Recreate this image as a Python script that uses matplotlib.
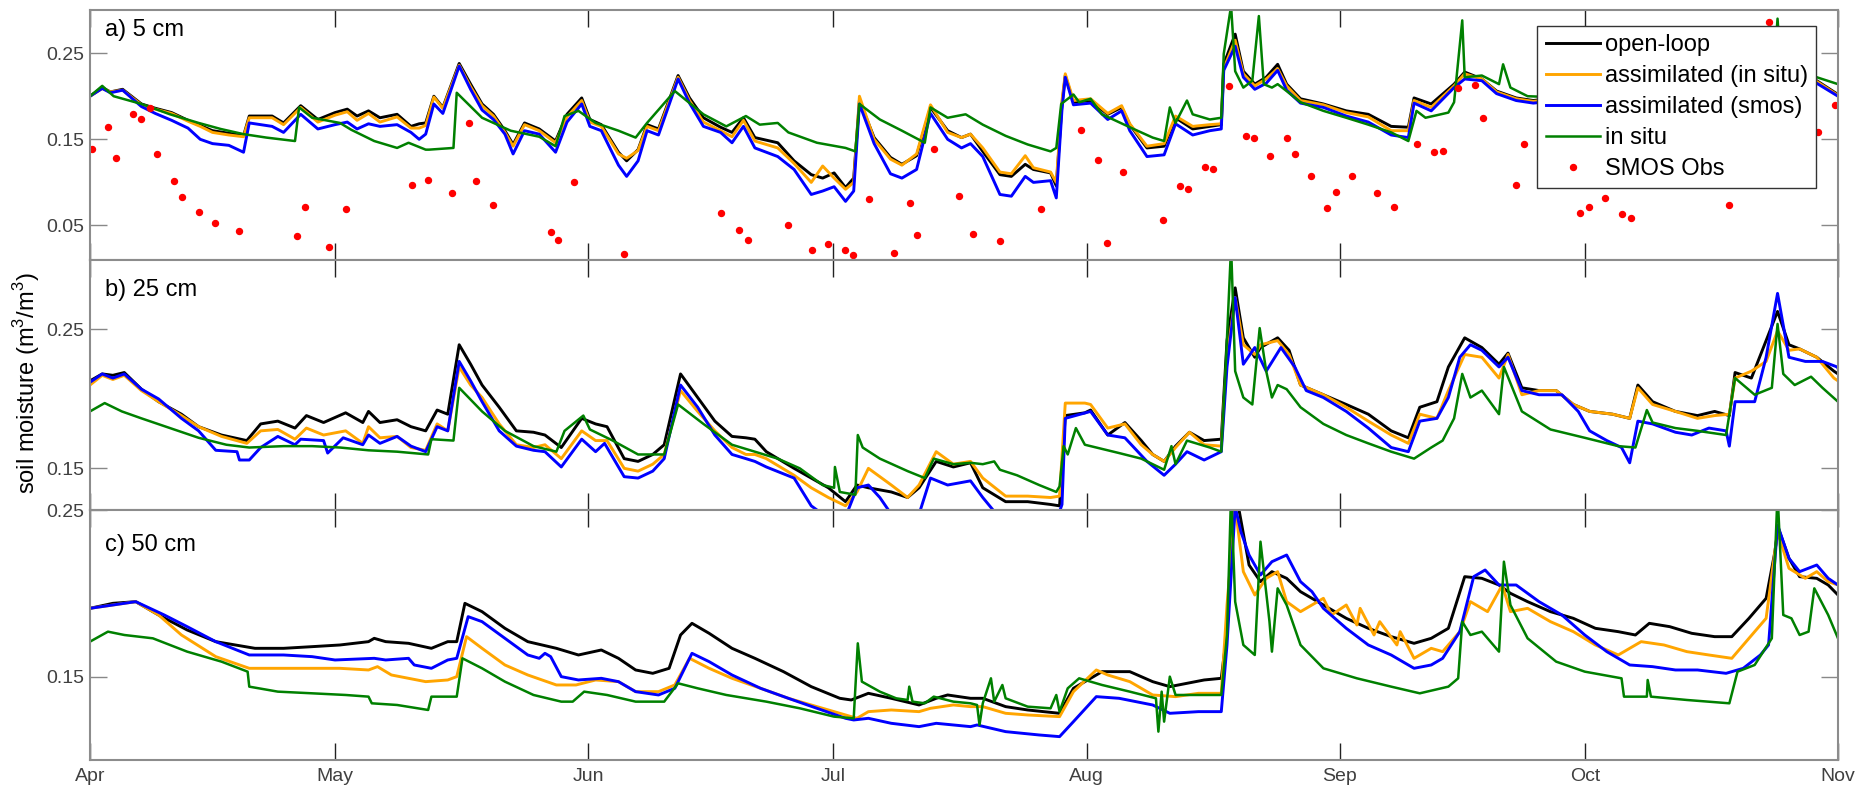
import numpy as np
import pandas as pd
import matplotlib
matplotlib.use("Agg")
import matplotlib.pyplot as plt
import matplotlib.dates as mdates

plt.rcParams["font.family"] = ["Liberation Sans", "DejaVu Sans"]
plt.rcParams["mathtext.fontset"] = "custom"
plt.rcParams["mathtext.rm"] = "Liberation Sans"

START = pd.Timestamp("2013-04-01")
END = pd.Timestamp("2013-11-01")

# ---------------- a) 5 cm ----------------
a_days = [0, 1.5, 2.5, 4, 6.3, 8, 10, 12, 13.5, 15,
          17, 18.8, 19.5, 22.3, 23.7, 25.8, 27.9, 30, 31.5, 32.7,
          34.1, 35.5, 37.6, 39.3, 40.3, 41.1, 42.1, 43.2, 45.2, 46.6,
          48, 49.4, 50.8, 51.8, 53.2, 55, 57, 58.4, 60.2, 61.2,
          62.6, 64.7, 65.7, 67.1, 68.2, 69.6, 72, 73.4, 75.1, 77.2,
          78.6, 80, 81.4, 84.2, 86.2, 88.3, 89.7, 91.1, 92.5, 93.5,
          94.2, 96, 98, 99.4, 101.2, 102.9, 105, 106.7, 107.8, 109.3,
          111.4, 112.8, 114.5, 115.5, 117.6, 118.3, 119, 119.4, 120.4, 122.5,
          124.6, 126.3, 127.3, 129.4, 131.5, 132.9, 135, 137.1, 138.5, 138.8,
          140.2, 141.2, 142.6, 144, 145.4, 146.5, 148.2, 151, 153.8, 156.5,
          159.3, 161.4, 162.1, 164.2, 167, 168.3, 170.4, 172.2, 174.6, 176.7,
          185, 195, 205, 211.4, 214]
a_open = [.200, .210, .205, .208, .191, .186, .181, .172, .166, .160,
          .157, .154, .177, .177, .169, .189, .173, .181, .185, .177,
          .183, .175, .179, .165, .168, .169, .200, .187, .238, .214,
          .191, .179, .160, .144, .169, .162, .148, .179, .198, .173,
          .167, .135, .125, .138, .167, .162, .224, .198, .175, .164,
          .158, .175, .152, .146, .125, .109, .105, .111, .094, .105,
          .195, .152, .129, .121, .131, .187, .160, .152, .156, .136,
          .109, .107, .121, .115, .111, .096, .191, .224, .193, .195,
          .179, .187, .167, .140, .142, .175, .162, .165, .167, .237,
          .272, .229, .214, .222, .237, .214, .197, .191, .183, .179,
          .165, .164, .198, .191, .214, .228, .220, .206, .198, .195,
          .205, .200, .225, .218, .202]
a_insitu = [.200, .209, .205, .207, .190, .185, .180, .171, .165, .158,
            .155, .153, .175, .175, .167, .187, .170, .178, .182, .172,
            .180, .170, .176, .163, .163, .166, .199, .186, .236, .211,
            .189, .177, .158, .142, .167, .160, .146, .176, .195, .170,
            .165, .133, .128, .137, .165, .160, .222, .195, .170, .160,
            .153, .172, .148, .140, .122, .100, .119, .105, .092, .100,
            .200, .150, .127, .120, .133, .190, .158, .152, .156, .140,
            .112, .110, .131, .117, .112, .100, .195, .226, .195, .197,
            .180, .189, .168, .142, .145, .177, .165, .167, .168, .232,
            .265, .226, .212, .220, .232, .212, .195, .190, .181, .176,
            .160, .160, .195, .187, .212, .226, .220, .205, .197, .194,
            .204, .199, .224, .217, .201]
a_smos = [.200, .209, .204, .207, .188, .180, .172, .163, .150, .145,
          .143, .135, .169, .165, .158, .179, .162, .167, .170, .162,
          .168, .165, .167, .158, .150, .156, .191, .180, .235, .208,
          .184, .173, .156, .133, .160, .156, .135, .170, .191, .165,
          .160, .120, .107, .125, .160, .155, .220, .192, .165, .158,
          .146, .165, .140, .130, .115, .086, .090, .095, .078, .090,
          .191, .145, .110, .105, .115, .180, .150, .140, .145, .130,
          .086, .084, .107, .100, .102, .082, .185, .222, .190, .192,
          .173, .183, .160, .130, .132, .168, .155, .160, .162, .230,
          .258, .222, .208, .215, .230, .207, .192, .187, .177, .170,
          .155, .152, .192, .183, .210, .220, .218, .203, .195, .192,
          .200, .197, .222, .215, .200]
a_obs_days = [0, 1.5, 2.9, 6.3, 9.8, 13.3, 16, 18.8, 20.2, 21.6,
              25.1, 25.6, 27.2, 30.6, 32, 34.8, 37.6, 39, 41.1, 41.5,
              44.5, 44.9, 48, 51.5, 55, 57, 58.1, 59.8, 61.9, 64.7,
              66.8, 68.2, 71.6, 75.1, 77.9, 80.3, 82, 84.2, 85.5, 89,
              92.5, 93.7, 94.2, 96.7, 99.4, 102.2, 102.9, 105, 107.2, 109.3,
              112.1, 114.8, 117.6, 118.3, 118.9, 120.4, 121.1, 122.5, 123.9, 127.3,
              130.1, 131.5, 132.2, 132.9, 134.3, 135, 137.1, 138.5, 138.8, 139.7,
              140.2, 141.2, 142.3, 143.1, 143.7, 144.7, 145.4, 146.5, 148.2, 151,
              153.8, 156.5, 159.3, 161.4, 162.4, 163.5, 166.3, 167, 168, 168.3,
              170.4, 172.5, 173, 173.9, 176, 190, 200, 206, 206.6, 207,
              211.4, 214]
a_obs = [.200, .212, .200, .191, .179, .169, .162, .156, .154, .152,
         .148, .187, .175, .169, .161, .148, .140, .146, .138, .138,
         .140, .204, .175, .160, .153, .142, .177, .183, .169, .160,
         .152, .169, .206, .179, .165, .177, .167, .169, .158, .146,
         .140, .136, .191, .173, .160, .146, .187, .175, .179, .167,
         .154, .144, .136, .140, .191, .202, .193, .197, .179, .164,
         .152, .148, .187, .169, .195, .179, .173, .175, .249, .305,
         .229, .210, .218, .293, .214, .210, .214, .206, .193, .183,
         .175, .167, .158, .148, .183, .175, .181, .193, .288, .222,
         .224, .214, .237, .210, .200, .195, .200, .210, .290, .230,
         .222, .214]
smos_days = [0.2, 2.2, 3.2, 5.3, 6.3, 7.4, 8.2, 10.3, 11.3, 13.3,
             15.3, 18.3, 25.3, 26.3, 29.3, 31.3, 39.4, 41.4, 44.3, 46.4,
             47.3, 49.3, 56.4, 57.3, 59.3, 65.4, 77.3, 79.4, 80.5, 85.4,
             88.4, 90.4, 92.4, 93.4, 95.4, 98.4, 100.4, 101.3, 103.3, 106.4,
             108.1, 111.4, 116.4, 121.3, 123.4, 124.5, 126.5, 131.4, 133.5, 134.4,
             136.5, 137.5, 139.5, 141.5, 142.5, 144.5, 146.5, 147.5, 149.5, 151.5,
             152.6, 154.5, 157.6, 159.6, 162.5, 164.5, 165.6, 167.5, 169.5, 170.5,
             174.6, 175.5, 182.4, 183.5, 185.5, 187.6, 188.6, 200.6, 205.5, 211.6,
             213.6]
smos_obs = [.139, .164, .128, .179, .174, .186, .133, .102, .083, .066,
            .053, .044, .038, .072, .025, .069, .097, .103, .088, .169,
            .102, .074, .043, .033, .101, .017, .064, .045, .033, .050,
            .021, .028, .021, .016, .081, .018, .076, .039, .139, .084,
            .040, .032, .069, .161, .126, .030, .112, .056, .096, .092,
            .118, .115, .212, .154, .152, .131, .151, .133, .107, .070,
            .089, .108, .088, .072, .144, .135, .137, .210, .213, .175,
            .097, .145, .065, .072, .082, .063, .059, .074, .286, .159,
            .190]

# ---------------- b) 25 cm ----------------
b_days = [0, 1.5, 2.8, 4.2, 6.3, 8.4, 11.2, 13.3, 16.1, 19.2,
          20.9, 23, 25.1, 26.5, 28.6, 31.3, 33.4, 34.1, 35.5, 37.6,
          39.3, 41.1, 42.5, 43.8, 45.2, 46.6, 48, 50.1, 52.2, 54.3,
          55.7, 57.7, 60.2, 61.9, 63.3, 65.4, 67.1, 68.9, 70.3, 72.3,
          74.4, 76.5, 78.6, 80.3, 81.4, 82.8, 86.2, 88.3, 90.4, 92.5,
          93.9, 95.3, 98.1, 100.1, 101.5, 103.6, 105.7, 107.8,
          109.3, 112.1, 114.8, 117.6, 118.7, 119.4, 121.8, 122.5, 124.6, 126.7,
          128.7, 130.1, 131.5, 132.9, 134.6, 136.4, 138.5, 139.2, 140.2, 141.2,
          142.6, 143.3, 145.4, 146.8, 148.2, 151, 153.8, 156.5, 159.3, 161.4,
          162.8, 164.9, 166.3, 168.3, 170.4, 172.5, 173.6, 175.3, 177.4, 179.5,
          181.6, 183.6, 186.4, 188.5, 189.5, 191.3, 194.1, 196.8, 198.9, 200.7,
          201.4, 203.4, 205.2, 206.6, 208, 209.3, 211.4, 213.5, 214]
b_open = [.213, .218, .217, .219, .207, .198, .189, .180, .174, .170,
          .182, .184, .179, .188, .183, .190, .183, .191, .183, .185,
          .180, .177, .192, .189, .239, .225, .210, .194, .177, .176,
          .174, .165, .186, .182, .180, .157, .155, .160, .167, .218,
          .201, .184, .173, .172, .171, .162, .150, .143, .136, .126,
          .138, .136, .133, .129, .136, .155, .151, .154,
          .136, .126, .126, .124, .123, .188, .190, .192, .174, .183,
          .170, .160, .155, .166, .176, .170, .171, .242, .280, .244,
          .230, .237, .244, .235, .210, .203, .196, .189, .177, .172,
          .194, .198, .223, .244, .237, .225, .233, .208, .206, .206,
          .196, .191, .189, .186, .210, .198, .191, .188, .191, .188,
          .219, .215, .242, .263, .239, .236, .230, .220, .218]
b_insitu = [.210, .217, .214, .217, .206, .198, .188, .180, .173, .168,
            .177, .178, .171, .179, .174, .177, .168, .180, .172, .173,
            .165, .163, .182, .177, .223, .210, .201, .182, .167, .165,
            .167, .157, .177, .170, .170, .150, .148, .153, .160, .206,
            .191, .177, .165, .160, .160, .157, .145, .136, .129, .123,
            .133, .150, .138, .129, .138, .162, .153, .155,
            .143, .130, .130, .129, .130, .197, .197, .196, .179, .182,
            .167, .160, .155, .165, .176, .167, .166, .230, .273, .239,
            .232, .239, .242, .232, .210, .203, .194, .184, .174, .168,
            .189, .186, .206, .232, .230, .215, .232, .203, .206, .206,
            .196, .191, .189, .186, .208, .196, .191, .186, .188, .189,
            .215, .220, .227, .249, .235, .236, .230, .215, .213]
b_smos_days = [0, 1.5, 2.8, 4.2, 6.3, 8.4, 11.2, 13.3, 15.4, 18,
               18.3, 19.5, 20.9, 23, 25.1, 25.8, 28.6, 29.1, 31, 33.4,
               34.1, 35.5, 37.6, 39.3, 41.1, 42.5, 43.8, 45.2, 46.6, 48,
               50.1, 52.2, 54.3, 55.7, 57.7, 60.2, 61.9, 63, 65.4, 67.1,
               68.9, 70.3, 72.3, 74.4, 76.5, 78.6, 80.3, 81.4, 82.8, 86.2,
               88.3, 89.7, 92.5, 93.9, 95.3, 96.7, 98.1, 101.5, 102.9, 105,
               107.8,
               109.3, 110.7, 113.5, 118.3, 119, 119.4, 122.5, 124.6, 126.7, 129.4,
               131.5, 132.9, 134.3, 136.4, 138.5, 139.2, 140.2, 141.2, 142.6, 144,
               145.8, 147.5, 148.9, 151, 153.8, 156.5, 159.3, 161.4, 162.8, 164.9,
               166.3, 167.7, 169, 170.4, 172.5, 173.6, 175.3, 177.4, 180.2, 182.2,
               183.6, 185.7, 187.5, 188.5, 189.5, 191.3, 194.1, 196.1, 198.2, 200.3,
               200.7, 201.4, 203.8, 205.2, 206.6, 208, 210, 212.1, 213.9, 214]
b_smos = [.212, .218, .215, .218, .207, .200, .186, .177, .163, .162,
          .156, .156, .165, .173, .167, .171, .170, .161, .172, .167,
          .174, .168, .173, .166, .162, .180, .177, .227, .213, .198,
          .177, .166, .163, .162, .151, .171, .162, .168, .144, .143,
          .148, .157, .210, .194, .174, .160, .157, .155, .151, .143,
          .123, .117, .115, .136, .138, .129, .117, .117, .143, .138,
          .141,
          .129, .119, .112, .112, .124, .186, .191, .174, .172, .155,
          .145, .153, .162, .156, .162, .223, .273, .225, .237, .220,
          .237, .223, .206, .201, .191, .179, .165, .162, .184, .186,
          .201, .230, .239, .235, .223, .230, .206, .203, .203, .191,
          .177, .170, .165, .154, .184, .182, .176, .174, .179, .177,
          .166, .198, .198, .230, .276, .230, .227, .227, .223, .222]
b_obs_days = [0, 1.8, 3.9, 6.3, 9.8, 13.3, 16.7, 19.5, 23.7, 27.2,
              30.6, 34.1, 37.6, 41.4, 41.8, 44.5, 45.2, 48, 50.8, 54.3,
              57.1, 58.1, 60.4, 61.2, 64, 67.1, 70.3, 72, 75.1, 78.6,
              81.4, 84.2, 86.9, 89.7, 91.1, 91.2, 91.8, 93.7, 94, 94.6,
              96.7, 100.1, 102.2, 103.3, 105.7, 107.8,
              109.3, 110.7, 111.4, 113.5, 116.2, 118.3, 118.7, 119.2, 119.7, 120.7,
              121.8, 123.2, 126, 128.7, 130.8, 131.5, 132.4, 132.9, 134.3, 137.1,
              138.5, 139, 139.7, 140.2, 141.2, 142.3, 143.2, 144, 144.7, 145.4,
              146.5, 148.2, 151, 153.8, 156.5, 159.3, 162.1, 164.2, 165.6, 167,
              168, 169, 170.4, 172.5, 173.1, 175.3, 178.8, 183, 187.1, 189.2,
              190.6, 191.3, 194.1, 196.8, 200.3, 201.4, 203.8, 205.9, 206.6, 207.3,
              208.7, 210.7, 212.1, 214]
b_obs = [.191, .197, .191, .186, .179, .172, .167, .165, .166, .166,
         .165, .163, .162, .160, .171, .170, .208, .191, .177, .166,
         .162, .177, .188, .178, .170, .160, .160, .196, .182, .167,
         .162, .157, .150, .138, .136, .151, .133, .131, .174, .165,
         .157, .148, .143, .157, .153, .154,
         .153, .155, .149, .145, .138, .133, .137, .166, .160, .179,
         .167, .165, .161, .157, .151, .149, .166, .153, .170, .165,
         .162, .218, .310, .220, .201, .196, .251, .220, .201, .210,
         .207, .194, .182, .174, .168, .162, .157, .165, .170, .186,
         .218, .201, .206, .189, .223, .191, .178, .172, .166, .165,
         .192, .183, .179, .177, .174, .215, .203, .208, .254, .218,
         .210, .216, .208, .198]

# ---------------- c) 50 cm ----------------
c_open_days = [0, 2.8, 5.6, 8.4, 11.9, 15.4, 20.2, 23.7, 27.2, 30.6,
               34.1, 34.8, 36.2, 39, 41.8, 43.8, 44.9, 45.9, 48, 50.8,
               53.6, 57.1, 59.8, 62.6, 64.7, 66.8, 68.9, 70.9, 72.3, 73.7,
               75.8, 78.6, 81.4, 84.9, 88.3, 91.8, 93.2, 95.3, 98.1, 101.5,
               103.6, 105, 107.8,
               109.3, 112.1, 114.8, 118.7, 120.4, 123.9, 127.3, 130.1, 132.2, 134.3,
               136.4, 138.5, 139.2, 139.9, 140.6, 141.9, 143.3, 144.7, 146.5, 148.2,
               151, 153.8, 156.5, 159.3, 162.1, 164.2, 166.3, 168.3, 170.4, 172.5,
               173.9, 176, 178.8, 181.6, 184.3, 187.1, 189.2, 190.9, 193.4, 196.1,
               198.9, 201, 203.1, 205.2, 206.2, 206.7, 208, 209.3, 211.4, 212.8,
               214]
c_open = [.191, .194, .195, .187, .178, .171, .167, .167, .168, .169,
          .171, .173, .171, .170, .167, .171, .171, .194, .189, .179,
          .171, .167, .163, .166, .161, .154, .152, .155, .175, .182,
          .176, .167, .161, .153, .144, .137, .136, .140, .137, .133,
          .137, .139, .137,
          .137, .132, .130, .128, .143, .153, .153, .147, .144, .146,
          .148, .149, .177, .252, .252, .217, .207, .213, .209, .201,
          .193, .185, .179, .174, .170, .173, .179, .210, .209, .205,
          .200, .195, .189, .185, .179, .177, .175, .182, .180, .176,
          .174, .174, .185, .197, .223, .239, .221, .210, .209, .205,
          .199]
c_insitu_days = [0, 5.6, 8.4, 11.2, 15.4, 19.5, 23.7, 27.2, 30.6, 34.1,
                 35.2, 36.9, 41.1, 43.8, 44.9, 46.1, 48, 50.8, 53.6, 57.1,
                 59.5, 61.9, 64.7, 66.8, 69.6, 71.6, 73.4, 75.8, 78.6, 82.1,
                 85.5, 89, 92.5, 93.9, 95.3, 98.1, 101.5, 102.9, 105.7, 107.8,
                 109.3, 112.1, 114.8, 118.7, 120.4, 123.2, 124.6, 127.3, 130.1, 132.9,
                 135.7, 138.5, 139.2, 140.2, 141.2, 142.6, 144, 145.4, 146.5, 148.2,
                 151, 152, 153.8, 155.1, 155.5, 157.2, 157.9, 160, 160.4, 162.1,
                 164.2, 165.6, 167.7, 169, 171.1, 172.9, 173.9, 176, 178.8, 181.6,
                 184.3, 187.1, 189.9, 192.7, 195.5, 198.2, 201, 203.1, 205.2, 206.6,
                 208, 210, 211.4, 212.8, 214]
c_insitu = [.191, .195, .187, .175, .162, .155, .155, .155, .155, .154,
            .156, .151, .147, .148, .150, .174, .167, .157, .151, .145,
            .145, .148, .147, .141, .141, .145, .161, .155, .149, .143,
            .137, .132, .127, .125, .129, .130, .129, .131, .133, .132,
            .132, .128, .127, .126, .141, .154, .151, .147, .139, .138,
            .140, .140, .193, .252, .213, .199, .209, .213, .195, .189,
            .197, .187, .193, .181, .191, .175, .183, .169, .177, .161,
            .167, .165, .177, .195, .189, .205, .189, .191, .183, .177,
            .169, .163, .171, .169, .165, .163, .161, .173, .185, .237,
            .215, .209, .213, .207, .205]
c_smos_days = [0, 5.6, 9.1, 11.9, 15.4, 19.5, 23.7, 27.2, 30, 34.8,
               36.2, 39, 39.7, 41.8, 43.8, 44.9, 46.3, 48, 50.8, 53.6,
               55, 55.7, 56.4, 57.7, 59.8, 62.6, 64.7, 66.8, 69.6, 71.6,
               73.7, 75.8, 78.6, 82.1, 85.5, 89, 92.5, 93.5, 95.3, 98.1,
               101.5, 103.6, 105.7, 107.8,
               108.6, 112.1, 116.2, 118.7, 120.4, 123.2, 126, 130.1, 132.2, 135.7,
               138.5, 139.2, 140.2, 140.9, 141.9, 143.3, 144.7, 146.5, 148.2, 149.6,
               151, 153.8, 156.5, 159.3, 162.1, 164.2, 165.6, 167.7, 169.4, 170.8,
               172.5, 174.6, 177.4, 180.2, 183, 185.7, 188.5, 191.3, 194.1, 196.8,
               200.3, 202.4, 204.5, 205.5, 206.6, 208, 209.3, 211.4, 212.8, 214]
c_smos = [.191, .195, .187, .180, .171, .163, .163, .162, .160, .161,
          .160, .161, .157, .155, .160, .161, .186, .183, .173, .163,
          .161, .164, .162, .150, .148, .149, .147, .141, .139, .143,
          .164, .159, .151, .143, .137, .131, .125, .124, .125, .122,
          .120, .122, .121, .120,
          .121, .117, .115, .114, .123, .138, .137, .133, .128, .129,
          .129, .169, .252, .237, .223, .211, .219, .223, .207, .201,
          .191, .179, .169, .163, .155, .157, .161, .177, .210, .214,
          .205, .205, .195, .187, .175, .165, .157, .156, .154, .154,
          .152, .155, .163, .169, .241, .221, .213, .217, .209, .205]
c_obs_days = [0, 2.2, 4.2, 7.7, 11.9, 16.1, 19.3, 19.5, 23, 27.2,
              31.3, 34.1, 34.5, 37.6, 41.4, 41.8, 44.9, 45.6, 48, 50.8,
              54.3, 57.7, 59.1, 60.5, 63.3, 66.8, 70.3, 72, 74.4, 77.9,
              82.8, 86.9, 91.1, 93.5, 94, 94.5, 96.7, 98.7, 100.1, 100.3,
              100.7, 102.2, 103.3, 105.7, 107.8,
              108.6, 108.9, 109.3, 110.3, 110.7, 111.7, 112.1, 114.8, 117.6, 118.3,
              118.7, 119.7, 121.1, 123.9, 127.3, 130.5, 130.8, 131.2, 131.5, 132.2,
              132.9, 138.5, 139.2, 139.7, 140.2, 141.2, 142.6, 143.3, 144.4, 144.7,
              145.4, 146.5, 148.2, 151, 155.1, 159.3, 162.8, 166.3, 167.5, 168,
              169, 170.4, 172.5, 173.1, 173.9, 176, 179.5, 183, 187.5, 187.8,
              190.6, 190.7, 191.1, 195.5, 200.7, 201.7, 203.8, 205.9, 206.6, 207.3,
              208.3, 209.3, 210.4, 211.1, 212.8, 214]
c_obs = [.171, .177, .175, .173, .165, .159, .153, .144, .141, .140,
         .139, .138, .134, .133, .130, .138, .138, .161, .155, .147,
         .139, .135, .135, .141, .139, .135, .135, .146, .143, .139,
         .135, .131, .126, .125, .170, .147, .141, .137, .136, .144,
         .135, .134, .138, .135, .134,
         .133, .121, .134, .149, .135, .145, .137, .132, .131, .139,
         .129, .143, .149, .145, .141, .137, .117, .141, .123, .150,
         .139, .139, .175, .260, .195, .169, .163, .231, .183, .165,
         .203, .193, .169, .155, .149, .144, .140, .144, .149, .183,
         .175, .177, .165, .219, .193, .173, .159, .153, .149, .138,
         .138, .148, .138, .136, .134, .153, .157, .173, .260, .187,
         .185, .175, .177, .203, .187, .173]

SERIES_LABELS = ["open-loop", "assimilated (in situ)", "assimilated (smos)", "in situ", "SMOS Obs"]
SERIES_COLORS = ["#000000", "#FFA500", "#0000FF", "#008000", "#FF0000"]

panel_titles = ["a) 5 cm", "b) 25 cm", "c) 50 cm"]
panel_ylims = [(0.01, 0.30), (0.12, 0.30), (0.10, 0.25)]
panel_yticks = [[0.05, 0.15, 0.25], [0.15, 0.25], [0.15, 0.25]]
title_y = [0.92, 0.88, 0.86]


def to_dates(days):
    return START + pd.to_timedelta(np.asarray(days, dtype=float), unit="D")


panels = [
    [(a_days, a_open), (a_days, a_insitu), (a_days, a_smos), (a_obs_days, a_obs)],
    [(b_days, b_open), (b_days, b_insitu), (b_smos_days, b_smos), (b_obs_days, b_obs)],
    [(c_open_days, c_open), (c_insitu_days, c_insitu), (c_smos_days, c_smos), (c_obs_days, c_obs)],
]

fig = plt.figure(figsize=(18.59, 7.89), dpi=100)
left, width, height = 0.0484, 0.9403, 0.3168
bottoms = [0.6705, 0.3536, 0.0368]

axes = []
for i in range(3):
    ax = fig.add_axes([left, bottoms[i], width, height])
    axes.append(ax)
    handles = []
    for k, (d, v) in enumerate(panels[i]):
        lw = 1.8 if k == 3 else 2.1
        h, = ax.plot(to_dates(d), v, color=SERIES_COLORS[k], lw=lw,
                     label=SERIES_LABELS[k], zorder=2 + k)
        handles.append(h)
    if i == 0:
        hs, = ax.plot(to_dates(smos_days), smos_obs, linestyle="none", marker="o",
                      ms=4.3, mfc=SERIES_COLORS[4], mec=SERIES_COLORS[4],
                      label=SERIES_LABELS[4], zorder=8)
        handles.append(hs)
        leg = ax.legend(handles=handles, loc="upper right",
                        bbox_to_anchor=(0.9874, 0.936), borderaxespad=0,
                        fontsize=17, handlelength=2.3, handletextpad=0.2,
                        labelspacing=0.38, borderpad=0.35, fancybox=False,
                        framealpha=1, edgecolor="#333333")
        leg.get_frame().set_linewidth(1.0)
        leg.set_zorder(20)

    ax.set_xlim(START, END)
    ax.set_ylim(*panel_ylims[i])
    ax.set_yticks(panel_yticks[i])
    ax.yaxis.set_major_formatter(plt.FormatStrFormatter("%.2f"))
    ax.xaxis.set_major_locator(mdates.MonthLocator())
    ax.xaxis.set_major_formatter(mdates.DateFormatter("%b"))
    ax.tick_params(axis="x", direction="in", length=12.5, width=1.0, top=True,
                   color="#222222", labelsize=14, labelcolor="#404040", pad=6)
    ax.tick_params(axis="y", direction="in", length=12.5, width=1.0, right=True,
                   color="#888888", labelsize=14, labelcolor="#404040", pad=4)
    if i < 2:
        ax.tick_params(axis="x", labelbottom=False)
    for sp in ax.spines.values():
        sp.set_color("#8c8c8c")
        sp.set_linewidth(1.5)
        sp.set_zorder(15)
    ax.text(0.0086, title_y[i], panel_titles[i], transform=ax.transAxes,
            fontsize=17, va="center", ha="left", color="black", zorder=16)

fig.text(0.0145, 0.514, r"soil moisture (m$^\mathregular{3}$/m$^\mathregular{3}$)",
         rotation=90, va="center", ha="center", fontsize=17)

fig.savefig("out.png", dpi=100)
